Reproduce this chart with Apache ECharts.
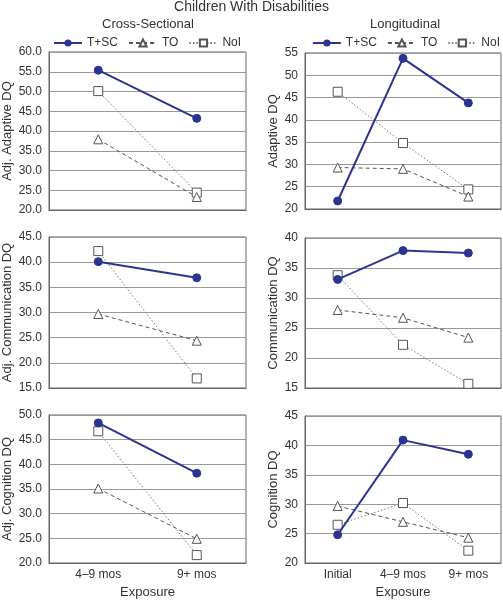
<!DOCTYPE html>
<html><head><meta charset="utf-8">
<script src="https://cdn.jsdelivr.net/npm/echarts@6/dist/echarts.min.js"></script>
<style>html,body{margin:0;padding:0;background:#fff}#c{width:503px;height:600px}</style>
</head><body><div id="c"></div>
<script>
const crossCats = ['4\u20139 mos', '9+ mos'];
const longCats = ['Initial', '4\u20139 mos', '9+ mos'];
const seriesNames = ['T+SC', 'TO', 'NoI'];

// Cross-sectional panels
const csAdaptive = { 'T+SC': [55.4, 43.2], 'TO': [37.9, 23.3], 'NoI': [50.1, 24.4] };
const csCommunication = { 'T+SC': [40.1, 36.9], 'TO': [29.7, 24.4], 'NoI': [42.2, 16.9] };
const csCognition = { 'T+SC': [48.4, 38.2], 'TO': [35.1, 24.9], 'NoI': [46.7, 21.6] };
// Longitudinal panels
const lgAdaptive = { 'T+SC': [21.8, 53.8, 43.8], 'TO': [29.3, 29.0, 22.8], 'NoI': [46.3, 34.8, 24.4] };
const lgCommunication = { 'T+SC': [33.1, 37.9, 37.5], 'TO': [28.0, 26.7, 23.4], 'NoI': [33.8, 22.2, 15.7] };
const lgCognition = { 'T+SC': [24.8, 40.9, 38.5], 'TO': [29.7, 27.0, 24.3], 'NoI': [26.5, 30.2, 22.1] };

const yNames = ['Adj. Adaptive DQ', 'Adaptive DQ', 'Adj. Communication DQ', 'Communication DQ', 'Adj. Cognition DQ', 'Cognition DQ'];
const yRanges = [[20, 60], [20, 55], [15, 45], [15, 40], [20, 50], [20, 45]];

const panels = [csAdaptive, lgAdaptive, csCommunication, lgCommunication, csCognition, lgCognition];

const gridPos = [
  { left: 49, top: 52, width: 197, height: 158 },
  { left: 305, top: 53, width: 196, height: 156 },
  { left: 49, top: 237, width: 197, height: 151 },
  { left: 305, top: 238, width: 196, height: 150 },
  { left: 49, top: 415, width: 197, height: 151 },
  { left: 305, top: 416, width: 196, height: 151 }
];

const FONT = 'Liberation Sans, Arial, sans-serif';
const TXT = '#333';
const NAVY = '#2b3590';

const grids = gridPos.map(g => Object.assign({ show: true, borderColor: '#666', borderWidth: 1, backgroundColor: '#fff' }, g));

const xAxes = gridPos.map((g, i) => {
  const isLeft = i % 2 === 0;
  const bottom = i >= 4;
  return {
    type: 'category', gridIndex: i, data: isLeft ? crossCats : longCats,
    boundaryGap: true,
    axisLine: { show: true, lineStyle: { color: '#666' } },
    axisTick: { show: false },
    axisLabel: { show: bottom, color: TXT, fontFamily: FONT, fontSize: 12, margin: 6 },
    name: bottom ? 'Exposure' : '', nameLocation: 'middle', nameGap: 23,
    nameTextStyle: { color: TXT, fontFamily: FONT, fontSize: 13 },
    splitLine: { show: false }
  };
});

const yAxes = gridPos.map((g, i) => {
  const isLeft = i % 2 === 0;
  return {
    type: 'value', gridIndex: i, min: yRanges[i][0], max: yRanges[i][1], interval: 5,
    axisLine: { show: true, lineStyle: { color: '#666' } },
    axisTick: { show: false },
    axisLabel: { color: TXT, fontFamily: FONT, fontSize: 12, margin: 7,
      formatter: v => isLeft ? v.toFixed(1) : String(v) },
    splitLine: { show: true, lineStyle: { color: '#999', width: 1 } },
    name: yNames[i], nameLocation: 'middle', nameGap: isLeft ? 35 : 25,
    nameTextStyle: { color: TXT, fontFamily: FONT, fontSize: 13 }
  };
});

const styles = {
  'T+SC': { symbol: 'circle', symbolSize: 8, itemStyle: { color: NAVY, borderColor: NAVY }, lineStyle: { color: NAVY, width: 2, type: 'solid' } },
  'TO': { symbol: 'triangle', symbolSize: 9, itemStyle: { color: '#fff', borderColor: '#555', borderWidth: 1 }, lineStyle: { color: '#555', width: 1, type: [4, 3] } },
  'NoI': { symbol: 'rect', symbolSize: 9, itemStyle: { color: '#fff', borderColor: '#555', borderWidth: 1 }, lineStyle: { color: '#777', width: 1, type: [1.5, 2] } }
};

const series = [];
panels.forEach((p, i) => {
  ['NoI', 'TO', 'T+SC'].forEach(n => {
    series.push(Object.assign({
      type: 'line', name: n, xAxisIndex: i, yAxisIndex: i, data: p[n],
      showSymbol: true, animation: false, z: n === 'T+SC' ? 3 : 2
    }, JSON.parse(JSON.stringify(styles[n]))));
  });
});

const legendCommon = {
  data: seriesNames, top: 37, itemWidth: 28, itemHeight: 9, itemGap: 10, padding: 0, width: 260,
  textStyle: { color: TXT, fontFamily: FONT, fontSize: 12 }, selectedMode: false
};

const titleStyle = (fs) => ({ color: TXT, fontFamily: FONT, fontSize: fs, fontWeight: 'normal' });

const option = {
  backgroundColor: '#fff',
  animation: false,
  title: [
    { text: 'Children With Disabilities', left: 'center', top: 0, padding: 0, textStyle: titleStyle(14) },
    { text: 'Cross-Sectional', left: 148, top: 18, padding: 0, textAlign: 'center', textStyle: titleStyle(13) },
    { text: 'Longitudinal', left: 405, top: 18, padding: 0, textAlign: 'center', textStyle: titleStyle(13) }
  ],
  legend: [
    Object.assign({ left: 53 }, legendCommon),
    Object.assign({ right: 3 }, legendCommon)
  ],
  grid: grids, xAxis: xAxes, yAxis: yAxes, series: series
};

const chart = echarts.init(document.getElementById('c'), null, { renderer: 'canvas' });
chart.setOption(option);
</script></body></html>
